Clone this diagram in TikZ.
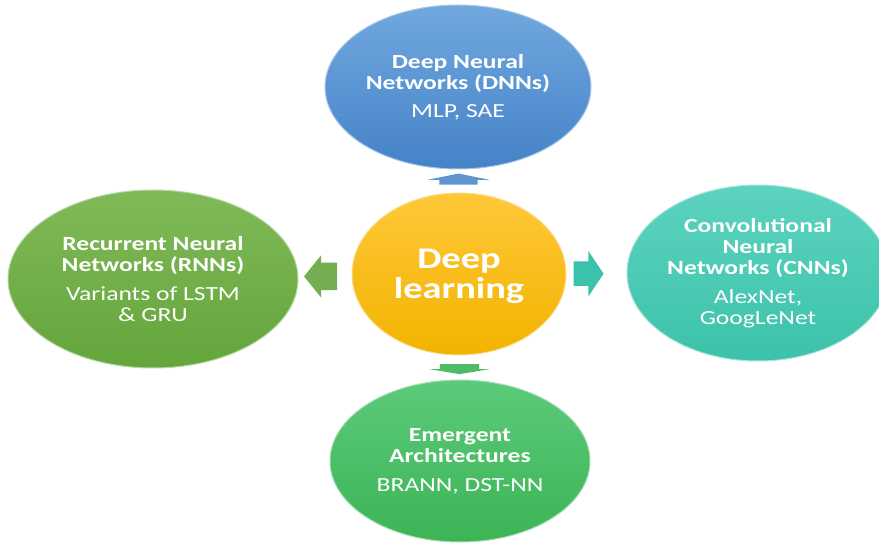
\documentclass[tikz,border=0pt]{standalone}
\usepackage{fontspec}
\setmainfont{Carlito}[FakeStretch=1.28]
\usetikzlibrary{shapes.geometric, shapes.arrows, calc}

\definecolor{dnntop}{HTML}{70A8DE}
\definecolor{dnnbot}{HTML}{4682C8}
\definecolor{dltop}{HTML}{FFC838}
\definecolor{dlbot}{HTML}{F2B300}
\definecolor{cnntop}{HTML}{5CD3BF}
\definecolor{cnnbot}{HTML}{3CC2AA}
\definecolor{rnntop}{HTML}{80BA58}
\definecolor{rnnbot}{HTML}{64A53C}
\definecolor{emgtop}{HTML}{5CCA7A}
\definecolor{emgbot}{HTML}{3CB455}

\tikzset{
    bubble/.style 2 args={ellipse, inner sep=0pt, top color=#1, bottom color=#2,
        draw=white!55!#2, line width=1pt},
    bubbletext/.style={align=center, text=white, font=\fontsize{20}{21}\selectfont},
    blockarrow/.style={single arrow, fill=#1, draw=none, inner xsep=0pt,
        single arrow head indent=0pt}
}

\begin{document}
\begin{tikzpicture}[x=1pt, y=-1pt]
    \useasboundingbox (0,0) rectangle (879,545);

    % the five bubbles
    \node[bubble={dnntop}{dnnbot}, minimum width=266, minimum height=164] (dnn) at (458,87) {};
    \node[bubble={dltop}{dlbot}, minimum width=214, minimum height=162] (dl) at (459,274) {};
    \node[bubble={cnntop}{cnnbot}, minimum width=262, minimum height=176] (cnn) at (758,273) {};
    \node[bubble={rnntop}{rnnbot}, minimum width=290, minimum height=178] (rnn) at (153,279) {};
    \node[bubble={emgtop}{emgbot}, minimum width=260, minimum height=162] (emg) at (460,461) {};

    % texts
    \node[bubbletext] (dnn-txt) at (dnn) {\textbf{Deep Neural}\\\textbf{Networks (DNNs)}\\[7pt]MLP, SAE};
    \node[bubbletext, font=\fontsize{30}{30}\selectfont\bfseries] (dl-txt) at (459,276) {Deep\\learning};
    \node[bubbletext] (cnn-txt) at (cnn) {\textbf{Convolutional}\\\textbf{Neural}\\\textbf{Networks (CNNs)}\\[8pt]AlexNet,\\GoogLeNet};
    \node[bubbletext] (rnn-txt) at (rnn) {\textbf{Recurrent Neural}\\\textbf{Networks (RNNs)}\\[8pt]Variants of LSTM\\\&\ GRU};
    \node[bubbletext] (emg-txt) at (emg) {\textbf{Emergent}\\\textbf{Architectures}\\[8pt]BRANN, DST-NN};

    % block arrows
    \node[blockarrow=dnnbot!85!white, rotate=90, minimum height=11, inner ysep=19,
        single arrow head extend=11.5, single arrow tip angle=157] (a-dnn)
        at ($(dl.north)!0.5!(dnn.south)$) {};
    \node[blockarrow=cnnbot, minimum height=30, inner ysep=12,
        single arrow head extend=10.5, single arrow tip angle=112] (a-cnn)
        at ($(dl.east)!0.30!(cnn.west)$) {};
    \node[blockarrow=rnnbot!90!white, rotate=180, minimum height=33, inner ysep=13.5,
        single arrow head extend=7.5, single arrow tip angle=102] (a-rnn)
        at ($(dl.west)!0.48!(rnn.east)$) {};
    \node[blockarrow=emgbot!90!white, rotate=-90, minimum height=10, inner ysep=19.5,
        single arrow head extend=10.5, single arrow tip angle=161] (a-emg)
        at ($(dl.south)!0.5!(emg.north)$) {};
\end{tikzpicture}
\end{document}
